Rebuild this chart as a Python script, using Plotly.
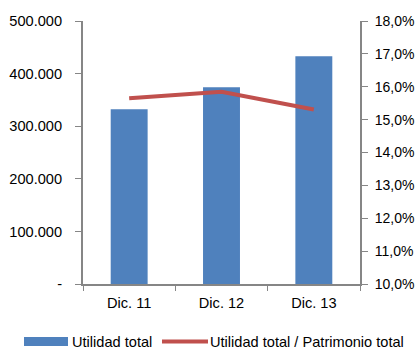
import plotly.graph_objects as go

categories = ["Dic. 11", "Dic. 12", "Dic. 13"]
utilidad_total = [332000, 374000, 433000]
ratio_pct = [15.65, 15.85, 15.31]

left_ticks = [0, 100000, 200000, 300000, 400000, 500000]
left_text = ["-", "100.000", "200.000", "300.000", "400.000", "500.000"]
right_ticks = [10, 11, 12, 13, 14, 15, 16, 17, 18]
right_text = [f"{v},0%" for v in right_ticks]

series_names = ["Utilidad total", "Utilidad total / Patrimonio total"]
bar_color = "#4F81BD"
line_color = "#C0504D"

font = dict(family="Liberation Sans, Arial, sans-serif", size=14.6, color="#000000")
right_font = dict(family="Liberation Sans, Arial, sans-serif", size=14, color="#000000")
axis_col = "#868686"

# plot area in pixels: x 83..360, y 21..284
L, R, T, B = 83, 58, 21, 65
W, H = 418, 349
pw, ph = W - L - R, H - T - B


def px(x):
    return (x - L) / pw


def py(y):
    return (H - B - y) / ph


fig = go.Figure()
fig.add_trace(go.Bar(
    x=categories, y=utilidad_total, name=series_names[0],
    marker=dict(color=bar_color, line=dict(width=0)), width=0.4,
))
fig.add_trace(go.Scatter(
    x=categories, y=ratio_pct, name=series_names[1],
    mode="lines", line=dict(color=line_color, width=4), yaxis="y2",
))

# custom legend
shapes = [
    dict(type="rect", xref="paper", yref="paper", x0=px(24), x1=px(68),
         y0=py(346), y1=py(337), fillcolor=bar_color, line=dict(width=0)),
    dict(type="line", xref="paper", yref="paper", x0=px(162), x1=px(208),
         y0=py(341.5), y1=py(341.5), line=dict(color=line_color, width=4)),
]
annotations = [
    dict(text=series_names[0], xref="paper", yref="paper", x=px(71), y=py(341.5),
         xanchor="left", yanchor="middle", showarrow=False, font=font, borderpad=0),
    dict(text=series_names[1], xref="paper", yref="paper", x=px(209), y=py(341.5),
         xanchor="left", yanchor="middle", showarrow=False, font=font, borderpad=0),
]

fig.update_layout(
    width=W, height=H,
    margin=dict(l=L, r=R, t=T, b=B, autoexpand=False),
    paper_bgcolor="white", plot_bgcolor="white",
    font=font,
    showlegend=False,
    shapes=shapes,
    annotations=annotations,
    xaxis=dict(type="category", showline=True, linecolor=axis_col, linewidth=2,
               ticks="outside", tickson="boundaries", ticklen=5, tickcolor=axis_col,
               tickwidth=1, showgrid=False, range=[-0.5, 2.5], ticklabelstandoff=4,
               automargin=False),
    yaxis=dict(range=[0, 500000], tickvals=left_ticks, ticktext=left_text,
               showline=True, linecolor=axis_col, linewidth=2, ticks="outside",
               ticklen=6, tickcolor=axis_col, showgrid=False, zeroline=False,
               ticklabelstandoff=10, automargin=False),
    yaxis2=dict(range=[10, 18], tickvals=right_ticks, ticktext=right_text,
                overlaying="y", side="right", showline=True, linecolor=axis_col,
                linewidth=2, ticks="outside", ticklen=6, tickcolor=axis_col,
                showgrid=False, zeroline=False, ticklabelstandoff=4, automargin=False,
                tickfont=right_font),
)

fig.write_html("out.html")
